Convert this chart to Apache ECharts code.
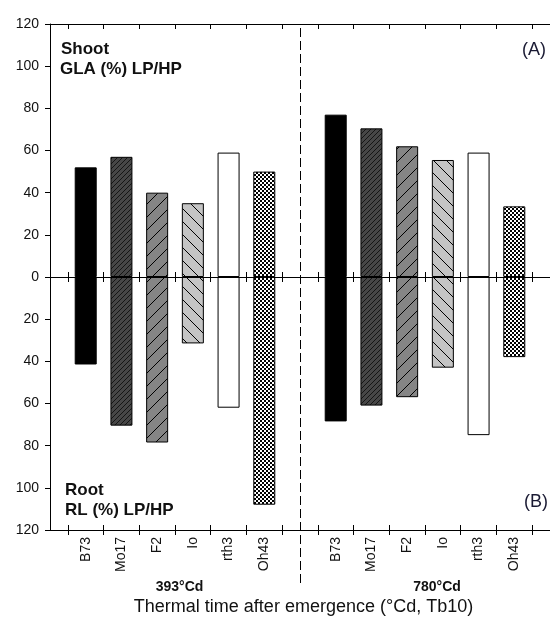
<!DOCTYPE html>
<html><head><meta charset="utf-8">
<script src="https://cdn.jsdelivr.net/npm/echarts@6/dist/echarts.min.js"></script>
<style>html,body{margin:0;padding:0;background:#fff}#c{width:550px;height:617px}</style>
</head><body><div id="c"></div>
<script>
// ---- data ----
const genotypes = ['B73', 'Mo17', 'F2', 'Io', 'rth3', 'Oh43'];
const stages = ['393°Cd', '780°Cd'];
const shoot393 = [52, 57, 40, 35, 59, 50];
const root393 = [41.5, 70.5, 78.5, 31.5, 62, 108];
const shoot780 = [77, 70.5, 62, 55.5, 59, 33.5];
const root780 = [68.5, 61, 57, 43, 75, 38];
const shootByStage = [shoot393, shoot780];
const rootByStage = [root393, root780];

// ---- layout helpers ----
const FONT = '"Liberation Sans", Arial, sans-serif';
const slotsPerStage = genotypes.length + 1; // one empty slot between stages
const nSlots = slotsPerStage * stages.length - 1;
const xMin = -0.5, xMax = nSlots + 0.5;
const boundaries = Array.from({length: nSlots + 1}, (_, k) => k);
const labelCenters = [];
stages.forEach((s, si) => genotypes.forEach((g, gi) => labelCenters.push(si * slotsPerStage + gi + 0.5)));
const gapCenter = genotypes.length + 0.5;

function pat(size, base, draw) {
  const c = document.createElement('canvas');
  c.width = size; c.height = size;
  const x = c.getContext('2d');
  x.fillStyle = base; x.fillRect(0, 0, size, size);
  if (draw) draw(x, size);
  return {image: c, repeat: 'repeat'};
}
function slash(x, s, color, w) {
  x.strokeStyle = color; x.lineWidth = w;
  x.beginPath();
  x.moveTo(0, s); x.lineTo(s, 0);
  x.moveTo(-s / 2, s / 2); x.lineTo(s / 2, -s / 2);
  x.moveTo(s / 2, s * 1.5); x.lineTo(s * 1.5, s / 2);
  x.stroke();
}
function backslash(x, s, color, w) {
  x.strokeStyle = color; x.lineWidth = w;
  x.beginPath();
  x.moveTo(0, 0); x.lineTo(s, s);
  x.moveTo(-s / 2, s / 2); x.lineTo(s / 2, s * 1.5);
  x.moveTo(s / 2, -s / 2); x.lineTo(s * 1.5, s / 2);
  x.stroke();
}
const fills = [
  '#000000',
  pat(5, '#474747', (x, s) => slash(x, s, '#151515', 1)),
  pat(13, '#858585', (x, s) => slash(x, s, '#000', 1)),
  pat(13, '#c4c4c4', (x, s) => backslash(x, s, '#000', 1)),
  '#ffffff',
  pat(4, '#ffffff', (x) => { x.fillStyle = '#000'; x.fillRect(0, 0, 2, 2); x.fillRect(2, 2, 2, 2); })
];

const series = [];
genotypes.forEach((g, gi) => {
  const common = {
    type: 'bar', name: g, barWidth: 22, barGap: '-100%', xAxisIndex: 0, yAxisIndex: 0,
    itemStyle: {color: fills[gi], borderColor: '#000', borderWidth: 1},
    emphasis: {disabled: true}
  };
  series.push(Object.assign({}, common, {
    data: stages.map((s, si) => [si * slotsPerStage + gi + 0.5, shootByStage[si][gi]])
  }));
  series.push(Object.assign({}, common, {
    data: stages.map((s, si) => [si * slotsPerStage + gi + 0.5, -rootByStage[si][gi]])
  }));
});
series.push({
  type: 'line', xAxisIndex: 5, yAxisIndex: 1, data: [], silent: true,
  markLine: {
    symbol: 'none', silent: true, animation: false, label: {show: false},
    lineStyle: {type: [9, 4], color: '#000', width: 1},
    data: [{xAxis: gapCenter}]
  }
});

function xAx(extra) {
  return Object.assign({
    type: 'value', min: xMin, max: xMax, gridIndex: 0,
    splitLine: {show: false},
    axisLabel: {show: false},
    axisTick: {show: false},
    axisLine: {show: false, onZero: false}
  }, extra);
}
const tickStyle = {color: '#000', width: 1};

const option = {
  animation: false,
  grid: [
    {left: 50, top: 24, width: 506, height: 506, containLabel: false},
    {left: 50, top: 24, width: 506, height: 559, containLabel: false}
  ],
  xAxis: [
    xAx({
      position: 'bottom',
      axisLine: {show: true, onZero: false, lineStyle: {color: '#000', width: 1}},
      axisTick: {show: true, customValues: boundaries, length: 5, inside: false, lineStyle: tickStyle},
      axisLabel: {
        show: true, customValues: labelCenters, rotate: 90, margin: 7,
        color: '#111', fontSize: 14, fontFamily: FONT,
        formatter: v => genotypes[Math.floor(v) % slotsPerStage] || ''
      }
    }),
    xAx({position: 'bottom', axisTick: {show: true, customValues: boundaries, length: 5, inside: true, lineStyle: tickStyle}}),
    xAx({position: 'bottom', z: 5,
      axisLine: {show: true, onZero: true, onZeroAxisIndex: 0, lineStyle: {color: '#000', width: 1}},
      axisTick: {show: true, customValues: boundaries, length: 5, inside: false, lineStyle: tickStyle}}),
    xAx({position: 'bottom', z: 5,
      axisLine: {show: false, onZero: true, onZeroAxisIndex: 0},
      axisTick: {show: true, customValues: boundaries, length: 5, inside: true, lineStyle: tickStyle}}),
    xAx({position: 'top',
      axisLine: {show: true, onZero: false, lineStyle: {color: '#000', width: 1}},
      axisTick: {show: true, customValues: boundaries, length: 5, inside: true, lineStyle: tickStyle}}),
    xAx({gridIndex: 1, show: false})
  ],
  yAxis: [
    {
      type: 'value', gridIndex: 0, min: -120, max: 120, interval: 20,
      axisLine: {show: true, onZero: false, lineStyle: {color: '#000', width: 1}},
      axisTick: {show: true, length: 5, lineStyle: tickStyle},
      axisLabel: {formatter: v => String(Math.abs(v)), color: '#111', fontSize: 14, margin: 11, fontFamily: FONT},
      splitLine: {show: false}
    },
    {type: 'value', gridIndex: 1, min: 0, max: 1, show: false, axisLine: {onZero: false}}
  ],
  series: series,
  graphic: [
    {type: 'text', x: 61, y: 49.5, style: {text: 'Shoot', font: 'bold 17px ' + FONT, fill: '#111', verticalAlign: 'middle'}},
    {type: 'text', x: 60, y: 69.5, style: {text: 'GLA (%) LP/HP', font: 'bold 17px ' + FONT, fill: '#111', verticalAlign: 'middle'}},
    {type: 'text', x: 65, y: 490, style: {text: 'Root', font: 'bold 17px ' + FONT, fill: '#111', verticalAlign: 'middle'}},
    {type: 'text', x: 65, y: 510, style: {text: 'RL (%) LP/HP', font: 'bold 17px ' + FONT, fill: '#111', verticalAlign: 'middle'}},
    {type: 'text', x: 546, y: 50, style: {text: '(A)', font: '18px ' + FONT, fill: '#1a1a33', align: 'right', verticalAlign: 'middle'}},
    {type: 'text', x: 548, y: 502, style: {text: '(B)', font: '18px ' + FONT, fill: '#1a1a33', align: 'right', verticalAlign: 'middle'}},
    {type: 'text', x: 179.5, y: 587, style: {text: stages[0], font: 'bold 14px ' + FONT, fill: '#111', align: 'center', verticalAlign: 'middle'}},
    {type: 'text', x: 437, y: 587, style: {text: stages[1], font: 'bold 14px ' + FONT, fill: '#111', align: 'center', verticalAlign: 'middle'}},
    {type: 'text', x: 303.5, y: 607.5, style: {text: 'Thermal time after emergence (°Cd, Tb10)', font: '18px ' + FONT, fill: '#111', align: 'center', verticalAlign: 'middle'}}
  ]
};
const chart = echarts.init(document.getElementById('c'), null, {renderer: 'canvas'});
chart.setOption(option);
</script>
</body></html>
